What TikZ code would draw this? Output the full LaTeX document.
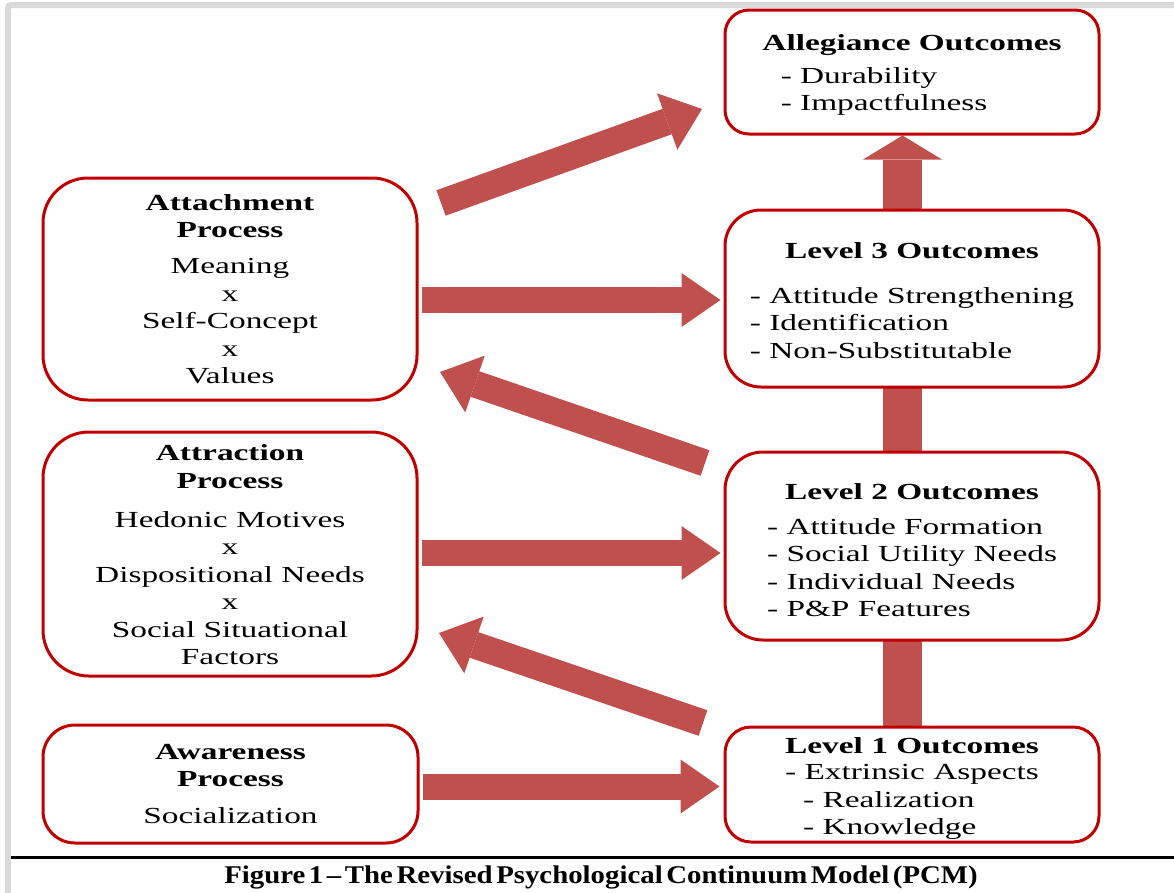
\documentclass[tikz,border=0pt]{standalone}
\usepackage{fontspec}
\setmainfont{Liberation Serif}
\newfontfamily\boxfont[FakeStretch=1.45]{Liberation Serif}
\newfontfamily\capfont[FakeStretch=1.13,WordSpace=0.5]{Liberation Serif}
\usetikzlibrary{arrows.meta,backgrounds}
\definecolor{boxred}{RGB}{192,0,0}
\definecolor{arrowred}{RGB}{192,80,77}
\definecolor{framegray}{RGB}{217,217,217}
\tikzset{
  box/.style={draw=boxred, line width=3pt, fill=white, rounded corners=#1,
    inner sep=0pt, outer sep=0pt},
  box/.default=30pt,
  boxtext/.style={inner sep=0pt, align=center,
    font=\boxfont\fontsize{23}{27.5}\selectfont},
  harrow/.style={draw=arrowred, line width=26pt,
    -{Triangle[width=54pt,length=39pt,line width=0pt]}},
  darrow/.style={draw=arrowred, line width=27pt,
    -{Triangle[width=60pt,length=37pt,line width=0pt]}},
  varrow/.style={draw=arrowred, line width=39pt,
    -{Triangle[width=79pt,length=24pt,line width=0pt]}},
  vbar/.style={draw=arrowred, line width=39pt},
  framebar/.style={draw=framegray, line width=6pt, rounded corners=3pt},
  rule/.style={draw=black, line width=3pt},
}
\begin{document}
\begin{tikzpicture}[x=1pt,y=-1pt]
\useasboundingbox (0,0) rectangle (1174,892);
\draw[framebar] (8,900) -- (8,5) -- (1180,5);

% right column
\node[box=24pt, minimum width=374pt, minimum height=124pt] (alleg) at (912,72) {};
\node[boxtext] (allegT) at ([yshift=-4.5pt]alleg.center)
  {\textbf{Allegiance Outcomes}\\[5.5pt]\hspace*{-56pt}\begin{tabular}[t]{@{}l@{}}- Durability\\- Impactfulness\end{tabular}};
\node[box=36pt, minimum width=374pt, minimum height=177pt] (l3) at (912,298.5) {};
\node[boxtext] (l3T) at ([yshift=-6pt]l3.center)
  {\textbf{Level 3 Outcomes}\\[17.5pt]\begin{tabular}[t]{@{}l@{}}- Attitude Strengthening\\- Identification\\- Non-Substitutable\end{tabular}};
\node[box=38pt, minimum width=374pt, minimum height=188pt] (l2) at (912,546) {};
\node[boxtext] (l2T) at ([yshift=-8pt]l2.center)
  {\textbf{Level 2 Outcomes}\\[7.5pt]\begin{tabular}[t]{@{}l@{}}- Attitude Formation\\- Social Utility Needs\\- Individual Needs\\- P\&P Features\end{tabular}};
\node[box=26pt, minimum width=374pt, minimum height=115pt] (l1) at (912,784.5) {};
\node[boxtext] (l1T) at ([yshift=-6pt]l1.center)
  {\textbf{Level 1 Outcomes}\\[-1.5pt]\begin{tabular}[t]{@{}l@{}}- Extrinsic Aspects\\\hspace*{18pt}- Realization\\\hspace*{18pt}- Knowledge\end{tabular}};

% left column
\node[box=45pt, minimum width=374pt, minimum height=222pt] (att) at (230,289) {};
\node[boxtext] (attT) at (att.center)
  {\textbf{Attachment}\\\textbf{Process}\\[8.5pt]Meaning\\x\\Self-Concept\\x\\Values};
\node[box=46pt, minimum width=374pt, minimum height=244pt] (attr) at (230,554) {};
\node[boxtext] (attrT) at ([yshift=-1pt]attr.center)
  {\textbf{Attraction}\\\textbf{Process}\\[11.5pt]Hedonic Motives\\x\\Dispositional Needs\\x\\Social Situational\\Factors};
\node[box=32pt, minimum width=375pt, minimum height=118pt] (awa) at (230.5,784) {};
\node[boxtext] (awaT) at (awa.center)
  {\textbf{Awareness}\\\textbf{Process}\\[9.5pt]Socialization};

% diagonal end points
\coordinate (d1s) at (441,203);
\coordinate (d1e) at (702,109);
\coordinate (d3s) at (705,463);
\coordinate (d3e) at (440,372);
\coordinate (d5s) at (703,723);
\coordinate (d5e) at (439,633);

\begin{scope}[on background layer]
  \draw[harrow, shorten <=4.5pt, shorten >=4.5pt] (att.east |- 0,300) -- (l3.west |- 0,300);
  \draw[harrow, shorten <=4.5pt, shorten >=4.5pt] (attr.east |- 0,553) -- (l2.west |- 0,553);
  \draw[harrow, shorten <=4.5pt, shorten >=5.5pt] (awa.east |- 0,786.5) -- (l1.west |- 0,786.5);
  \draw[darrow] (d1s) -- (d1e);
  \draw[darrow] (d3s) -- (d3e);
  \draw[darrow] (d5s) -- (d5e);
  \draw[varrow, shorten >=1.5pt] (l3.north -| 902.5,0) -- (alleg.south -| 902.5,0);
  \draw[vbar] (l2.north -| 902.5,0) -- (l3.south -| 902.5,0);
  \draw[vbar] (l1.north -| 902.5,0) -- (l2.south -| 902.5,0);
\end{scope}

\coordinate (rl) at (11,857);
\coordinate (rr) at (1174,857);
\draw[rule] (rl) -- (rr);
\node[font=\capfont\bfseries\fontsize{25.5}{28}\selectfont, inner sep=0pt] (cap) at (601,877)
  {Figure 1 – The Revised Psychological Continuum Model (PCM)};
\end{tikzpicture}
\end{document}
